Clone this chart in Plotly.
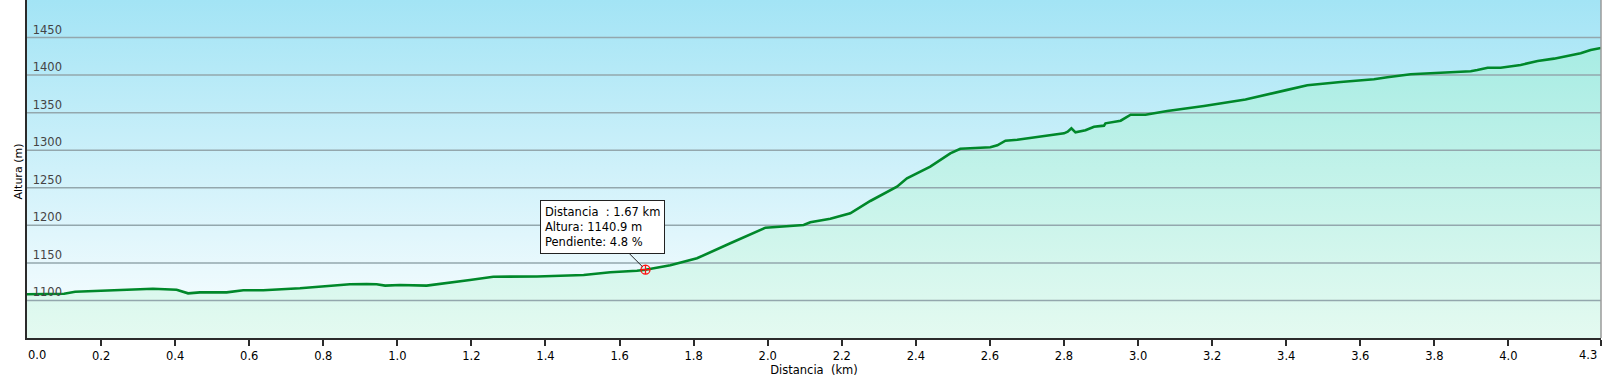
import plotly.graph_objects as go

# ---- data ----
distance_km = [0.000, 0.100, 0.130, 0.250, 0.323, 0.340, 0.404, 0.435, 0.467, 0.539,
               0.584, 0.638, 0.737, 0.872, 0.917, 0.944, 0.967, 1.007, 1.079, 1.097,
               1.196, 1.259, 1.377, 1.503, 1.575, 1.647, 1.670, 1.737, 1.809, 1.899,
               1.994, 2.097, 2.115, 2.169, 2.223, 2.277, 2.349, 2.376, 2.439, 2.493,
               2.520, 2.601, 2.620, 2.642, 2.674, 2.800, 2.810, 2.820, 2.831, 2.858,
               2.881, 2.908, 2.912, 2.953, 2.980, 3.020, 3.079, 3.178, 3.250, 3.290,
               3.400, 3.430, 3.457, 3.547, 3.637, 3.673, 3.736, 3.790, 3.898, 3.916,
               3.944, 3.979, 4.033, 4.079, 4.123, 4.195, 4.222, 4.250]
altitude_m = [1108.2, 1109.0, 1111.6, 1113.5, 1115.2, 1115.6, 1114.3, 1109.5, 1110.8, 1110.8,
              1113.5, 1113.5, 1116.2, 1121.5, 1121.9, 1121.5, 1119.7, 1120.6, 1119.7, 1121.0,
              1127.2, 1131.6, 1131.8, 1133.9, 1137.5, 1139.6, 1140.9, 1146.8, 1156.1, 1176.1,
              1196.9, 1200.4, 1204.0, 1208.8, 1216.0, 1232.4, 1251.4, 1262.6, 1278.1, 1295.9,
              1302.0, 1303.9, 1306.5, 1312.7, 1314.0, 1322.5, 1324.7, 1329.2, 1323.8, 1326.5,
              1331.3, 1332.7, 1335.8, 1339.3, 1347.3, 1347.3, 1352.2, 1358.9, 1364.5, 1367.5,
              1380.0, 1383.8, 1386.4, 1390.8, 1394.4, 1397.1, 1401.1, 1402.4, 1405.1, 1406.8,
              1409.9, 1409.9, 1413.5, 1418.8, 1421.9, 1429.0, 1433.4, 1436.1]

x_tick_values = [0.2, 0.4, 0.6, 0.8, 1.0, 1.2, 1.4, 1.6, 1.8, 2.0,
                 2.2, 2.4, 2.6, 2.8, 3.0, 3.2, 3.4, 3.6, 3.8, 4.0]
x_tick_labels = ["0.2", "0.4", "0.6", "0.8", "1.0", "1.2", "1.4", "1.6", "1.8", "2.0",
                 "2.2", "2.4", "2.6", "2.8", "3.0", "3.2", "3.4", "3.6", "3.8", "4.0"]
x_start_label = "0.0"
x_end_label = "4.3"
y_tick_values = [1100, 1150, 1200, 1250, 1300, 1350, 1400, 1450]
x_range = [0.0, 4.25]
y_range = [1050, 1500]
y_title = "Altura (m)"
x_title = "Distancia  (km)"

cursor_distance = 1.67
cursor_altitude = 1140.9
cursor_slope = 4.8

FONT = "DejaVu Sans"
LINE_GREEN = "#00882a"
GRID = "#93a7ad"
AXIS = "#2b2b2b"

fig = go.Figure()

# background gradient (sky)
fig.add_trace(go.Scatter(
    x=[x_range[0], x_range[1], x_range[1], x_range[0], x_range[0]],
    y=[y_range[0], y_range[0], y_range[1], y_range[1], y_range[0]],
    mode="lines", line=dict(width=0), fill="toself",
    fillgradient=dict(type="vertical",
                      colorscale=[[0, "#fbfeff"], [1, "#a3e4f5"]]),
    hoverinfo="skip", showlegend=False))

# area under the profile
fig.add_trace(go.Scatter(
    x=distance_km + [distance_km[-1], distance_km[0]],
    y=altitude_m + [y_range[0], y_range[0]],
    mode="lines", line=dict(width=0), fill="toself",
    fillgradient=dict(type="vertical", start=y_range[0], stop=y_range[1],
                      colorscale=[[0, "#e4faf0"], [1, "#9eeae2"]]),
    hoverinfo="skip", showlegend=False))

# grid lines drawn above the fills
for v in y_tick_values:
    fig.add_trace(go.Scatter(x=x_range, y=[v, v], mode="lines",
                             line=dict(color=GRID, width=1.5),
                             hoverinfo="skip", showlegend=False))

# profile line
fig.add_trace(go.Scatter(x=distance_km, y=altitude_m, mode="lines",
                         line=dict(color=LINE_GREEN, width=2.6),
                         hoverinfo="skip", showlegend=False))

# cursor marker
fig.add_trace(go.Scatter(x=[cursor_distance], y=[cursor_altitude], mode="markers",
                         marker=dict(symbol="circle-cross-open", size=9,
                                     color="#ff1010", line=dict(width=1.3, color="#ff1010")),
                         hoverinfo="skip", showlegend=False))

tooltip = (f"Distancia  : {cursor_distance:.2f} km<br>"
           f"Altura: {cursor_altitude:.1f} m<br>"
           f"Pendiente: {cursor_slope:.1f} %")

fig.add_annotation(x=cursor_distance, y=cursor_altitude, xref="x", yref="y",
                   text=tooltip, align="left", showarrow=True,
                   arrowhead=0, arrowwidth=1, arrowcolor="#222222",
                   ax=-43, ay=-43, standoff=4,
                   bgcolor="white", bordercolor="#222222", borderwidth=1, borderpad=4,
                   font=dict(family=FONT, size=11.5, color="black"))

fig.add_annotation(x=x_range[0], y=0, xref="x", yref="paper", text=x_start_label,
                   showarrow=False, xanchor="left", yanchor="top", yshift=-8, xshift=-1,
                   font=dict(family=FONT, size=11.5, color="black"))
fig.add_annotation(x=x_range[1], y=0, xref="x", yref="paper", text=x_end_label,
                   showarrow=False, xanchor="right", yanchor="top", yshift=-8, xshift=-2,
                   font=dict(family=FONT, size=11.5, color="black"))

# y-axis title as a rotated annotation left of the axis
fig.add_annotation(x=0, y=0.5, xref="paper", yref="paper", text=y_title,
                   textangle=-90, showarrow=False, xanchor="right", yanchor="middle",
                   xshift=-1, yshift=-3, font=dict(family=FONT, size=11, color="black"))

# right border
fig.add_shape(type="line", xref="paper", yref="paper", x0=1, x1=1, y0=0, y1=1,
              line=dict(color="#9a9a9a", width=1.5))

fig.update_layout(
    width=1605, height=386, autosize=False,
    margin=dict(l=27, r=4, t=0, b=48),
    paper_bgcolor="white", plot_bgcolor="white",
    font=dict(family=FONT, size=11, color="black"),
    xaxis=dict(range=x_range, tickmode="array", automargin=False,
               tickvals=[x_range[0]] + x_tick_values + [x_range[1]],
               ticktext=[""] + x_tick_labels + [""],
               ticks="outside", ticklen=6, tickwidth=1.5, tickcolor=AXIS,
               showgrid=False, zeroline=False, showline=True, linecolor=AXIS, linewidth=2,
               title=dict(text=x_title, font=dict(family=FONT, size=11.5), standoff=4),
               tickfont=dict(family=FONT, size=11.5)),
    yaxis=dict(range=y_range, tickmode="array", tickvals=y_tick_values, automargin=False,
               ticklabelposition="inside top", ticks="", ticklabelstandoff=4,
               showgrid=False, zeroline=False, showline=True, linecolor=AXIS, linewidth=2,
               tickfont=dict(family=FONT, size=11.5)),
)

fig.write_html("out.html", config={"displayModeBar": False},
               post_script="document.body.style.margin='0';document.body.style.overflow='hidden';")
